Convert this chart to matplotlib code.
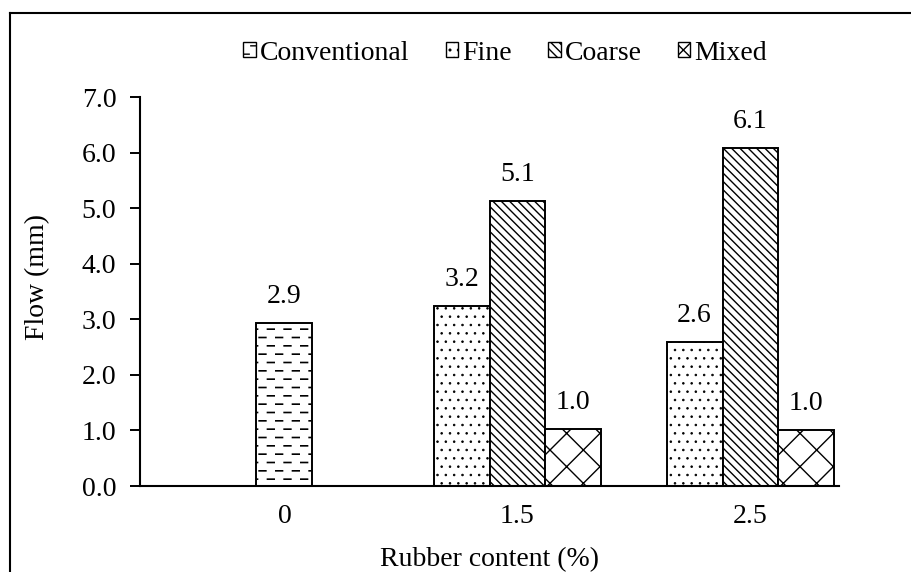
import matplotlib
matplotlib.use("Agg")
import matplotlib.pyplot as plt
import matplotlib.hatch as mhatch
from matplotlib.path import Path
from matplotlib.patches import Patch
from matplotlib.lines import Line2D
import numpy as np

# data
categories = ["0", "1.5", "2.5"]
series = ["Conventional", "Fine", "Coarse", "Mixed"]
conventional = [2.93, np.nan, np.nan]
fine = [np.nan, 3.24, 2.59]
coarse = [np.nan, 5.13, 6.08]
mixed = [np.nan, 1.02, 1.01]


class DashHatch(mhatch.HatchPatternBase):
    """Staggered horizontal dashes, used in place of the plain '-' hatch."""
    def __init__(self, hatch, density):
        self.num_rows = (hatch.count('-') + hatch.count('+')) * density
        self.num_dash = 6
        self.num_vertices = self.num_rows * self.num_dash * 2

    def set_vertices_and_codes(self, vertices, codes):
        k = 0
        nd = self.num_dash
        for i in range(self.num_rows):
            y = (i + 0.5) / self.num_rows
            off = 0.05 / nd if i % 2 == 0 else 0.55 / nd
            for j in range(nd):
                x0 = j / nd + off
                vertices[k] = (x0, y)
                vertices[k + 1] = (x0 + 0.4 / nd, y)
                codes[k] = Path.MOVETO
                codes[k + 1] = Path.LINETO
                k += 2


mhatch._hatch_types = [DashHatch if t is mhatch.HorizontalHatch else t
                       for t in mhatch._hatch_types]

plt.rcParams['font.family'] = ['Liberation Serif', 'DejaVu Serif']
plt.rcParams['font.size'] = 20
plt.rcParams['hatch.linewidth'] = 1.0

hatches = {"Conventional": "--", "Fine": "..", "Coarse": "\\\\\\\\", "Mixed": "x"}
hatch_lw = {"Conventional": 1.2, "Fine": 0.6, "Coarse": 1.0, "Mixed": 1.0}

fig = plt.figure(figsize=(9.12, 5.72), dpi=100)
ax = fig.add_axes([0.1535, 0.1503, 0.7665, 0.6801])

x = np.arange(len(categories))
w = 0.24
offsets = {"Conventional": 0.0, "Fine": -w, "Coarse": 0.0, "Mixed": w}
values = {"Conventional": conventional, "Fine": fine, "Coarse": coarse, "Mixed": mixed}

for name in series:
    vals = np.array(values[name], dtype=float)
    ok = ~np.isnan(vals)
    bars = ax.bar(x[ok] + offsets[name], vals[ok], width=w, color="white",
                  edgecolor="black", linewidth=1.4, hatch=hatches[name])
    for b in bars:
        try:
            b.set_hatch_linewidth(hatch_lw[name])
        except AttributeError:
            pass
    ax.bar_label(bars, labels=[f"{v:.1f}" for v in vals[ok]], padding=10)

ax.set_xlim(-0.62, 2.38)
ax.set_ylim(0, 7)
ax.set_yticks(np.arange(0, 7.1, 1.0))
ax.set_yticklabels([f"{v:.1f}" for v in np.arange(0, 7.1, 1.0)])
ax.set_xticks(x)
ax.set_xticklabels(categories)
ax.tick_params(axis="x", length=0, pad=13)
ax.tick_params(axis="y", length=7, width=1.4, pad=10)
for s in ["top", "right"]:
    ax.spines[s].set_visible(False)
for s in ["left", "bottom"]:
    ax.spines[s].set_linewidth(1.5)

ax.set_xlabel("Rubber content (%)")
ax.xaxis.set_label_coords(0.5, -0.158)
ax.set_ylabel("Flow (mm)")
ax.yaxis.set_label_coords(-0.129, 0.537)

handles = [Patch(facecolor="white", edgecolor="black", hatch=hatches[n], label=n)
           for n in series]
fig.legend(handles=handles, loc="center", bbox_to_anchor=(0.554, 0.907), ncol=4,
           frameon=False, handlelength=0.45, handleheight=0.45, handletextpad=0.15,
           columnspacing=1.3, borderaxespad=0)

# outer chart border (only the top and left edges fall inside the image)
fig.add_artist(Line2D([10 / 912, 1.0], [1 - 13 / 572] * 2, color="black", lw=1.5,
                      transform=fig.transFigure))
fig.add_artist(Line2D([10 / 912] * 2, [0.0, 1 - 13 / 572], color="black", lw=1.5,
                      transform=fig.transFigure))

fig.savefig("out.png", dpi=100)
